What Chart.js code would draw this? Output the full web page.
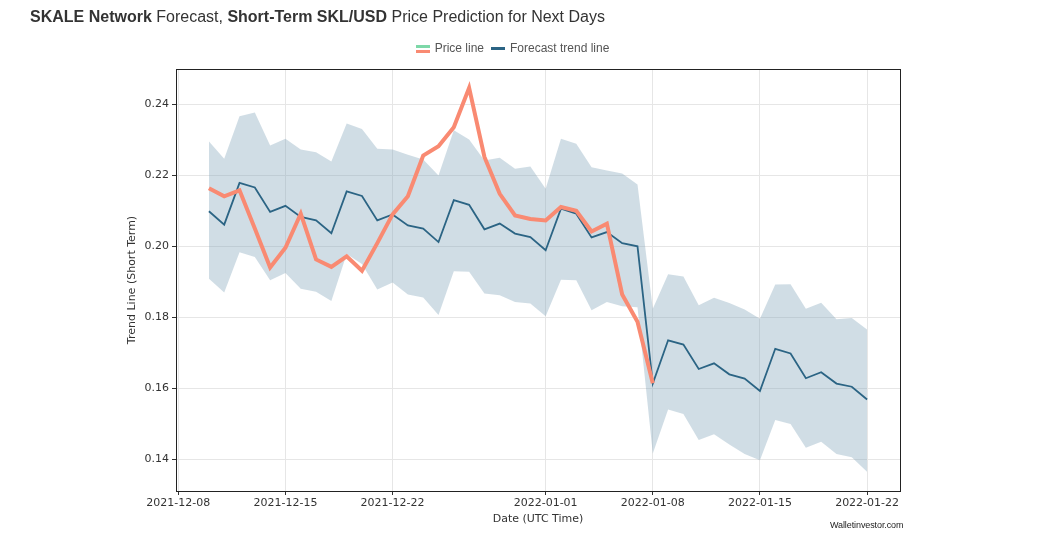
<!DOCTYPE html>
<html>
<head>
<meta charset="utf-8">
<script src="https://cdn.jsdelivr.net/npm/chart.js@4"></script>
<style>
  body { margin: 0; background: #fff; }
  #wrap { position: relative; width: 1048px; height: 542px; }
  #titulo { position: absolute; left: 30px; top: 8px; font: 16px "Liberation Sans", Arial, sans-serif; color: #333; white-space: nowrap; }
  #marca { position: absolute; left: 830px; top: 520px; font: 9px "Liberation Sans", Arial, sans-serif; color: #222; letter-spacing: -0.1px; }
  canvas { position: absolute; left: 0; top: 0; }
</style>
</head>
<body>
<div id="wrap">
  <canvas id="myChart" width="1048" height="542"></canvas>
  <div id="titulo"><b>SKALE Network</b> Forecast, <b>Short-Term SKL/USD</b> Price Prediction for Next Days</div>
  <div id="marca">Walletinvestor.com</div>
</div>
<script>
// Dados do grafico (um valor por dia, a partir de 2021-12-10)
const inicio = '2021-12-10';
const precos = [0.2164, 0.2141, 0.2158, 0.2050, 0.1940, 0.1996, 0.2092, 0.1963, 0.1942, 0.1972,
    0.1931, 0.2009, 0.2090, 0.2141, 0.2256, 0.2282, 0.2336, 0.2447, 0.2252, 0.2148,
    0.2087, 0.2077, 0.2073, 0.2111, 0.2100, 0.2042, 0.2064, 0.1864, 0.1787, 0.1614];
const tendencia = [0.2099, 0.2061, 0.2179, 0.2166, 0.2097, 0.2114, 0.2083, 0.2073, 0.2037, 0.2155,
    0.2142, 0.2073, 0.2090, 0.2059, 0.2050, 0.2012, 0.2130, 0.2117, 0.2048, 0.2064,
    0.2036, 0.2026, 0.1989, 0.2106, 0.2092, 0.2025, 0.2040, 0.2009, 0.2000, 0.1613,
    0.1735, 0.1723, 0.1654, 0.1670, 0.1639, 0.1627, 0.1592, 0.1711, 0.1698, 0.1628,
    0.1645, 0.1613, 0.1604, 0.1568];
const limiteSup = [0.2296, 0.2247, 0.2367, 0.2377, 0.2284, 0.2303, 0.2273, 0.2265, 0.2239, 0.2346,
    0.2331, 0.2275, 0.2273, 0.2258, 0.2245, 0.2200, 0.2327, 0.2301, 0.2242, 0.2250,
    0.2219, 0.2225, 0.2162, 0.2303, 0.2289, 0.2223, 0.2214, 0.2205, 0.2174, 0.1824,
    0.1921, 0.1915, 0.1834, 0.1855, 0.1840, 0.1822, 0.1796, 0.1892, 0.1893, 0.1824,
    0.1841, 0.1794, 0.1798, 0.1765];
const limiteInf = [0.1909, 0.1870, 0.1983, 0.1970, 0.1904, 0.1925, 0.1880, 0.1872, 0.1846, 0.1978,
    0.1950, 0.1878, 0.1898, 0.1864, 0.1856, 0.1806, 0.1930, 0.1928, 0.1867, 0.1862,
    0.1843, 0.1839, 0.1803, 0.1906, 0.1904, 0.1820, 0.1843, 0.1831, 0.1828, 0.1416,
    0.1540, 0.1527, 0.1454, 0.1470, 0.1441, 0.1414, 0.1397, 0.1510, 0.1499, 0.1432,
    0.1449, 0.1414, 0.1405, 0.1364];
const datasTicks = ['2021-12-08', '2021-12-15', '2021-12-22', '2022-01-01', '2022-01-08', '2022-01-15', '2022-01-22'];
const valoresY = [0.14, 0.16, 0.18, 0.20, 0.22, 0.24];

const DIA = 86400000;
function diaDe(txt) { return Date.parse(txt + 'T00:00:00Z') / DIA; }
function textoDia(d) { return new Date(Math.round(d) * DIA).toISOString().slice(0, 10); }

const dia0 = diaDe(inicio);
const pontos = arr => arr.map((v, i) => ({ x: dia0 + i, y: v }));
const ultimo = dia0 + tendencia.length - 1;
const margem = (ultimo - dia0) * 0.05;

// icone da legenda do preco (verde em cima, laranja em baixo)
const iconePreco = document.createElement('canvas');
iconePreco.width = 14; iconePreco.height = 10;
let c = iconePreco.getContext('2d');
c.fillStyle = '#7dd8a8'; c.fillRect(0, 1, 14, 3);
c.fillStyle = '#f98a72'; c.fillRect(0, 6, 14, 3);
const iconeTend = document.createElement('canvas');
iconeTend.width = 14; iconeTend.height = 10;
c = iconeTend.getContext('2d');
c.fillStyle = '#2b6484'; c.fillRect(0, 3, 14, 3);

// moldura completa como no matplotlib
const moldura = {
    id: 'moldura',
    afterDatasetsDraw(chart) {
        const a = chart.chartArea, ctx = chart.ctx;
        ctx.save();
        ctx.strokeStyle = '#222';
        ctx.lineWidth = 1;
        ctx.strokeRect(Math.round(a.left) + 0.5, Math.round(a.top) + 0.5, Math.round(a.right - a.left), Math.round(a.bottom - a.top));
        ctx.restore();
    }
};

// espaco extra abaixo da legenda
const espacoLegenda = {
    id: 'espacoLegenda',
    beforeInit(chart) {
        const fitOriginal = chart.legend.fit;
        chart.legend.fit = function () {
            fitOriginal.bind(chart.legend)();
            this.height += 4;
        };
    }
};

const fonteEixo = { family: '"DejaVu Sans", sans-serif', size: 11 };

new Chart(document.getElementById('myChart'), {
    type: 'line',
    data: {
        datasets: [
            { label: 'Price line', data: pontos(precos), borderColor: '#f98a72', borderWidth: 4, pointRadius: 0, fill: false, tension: 0, order: 0 },
            { label: 'Forecast trend line', data: pontos(tendencia), borderColor: '#2b6484', borderWidth: 1.8, pointRadius: 0, fill: false, tension: 0, order: 1 },
            { label: 'sup', data: pontos(limiteSup), borderWidth: 0, borderColor: 'rgba(0,0,0,0)', pointRadius: 0, fill: '+1', backgroundColor: 'rgba(119,157,180,0.35)', order: 2 },
            { label: 'inf', data: pontos(limiteInf), borderWidth: 0, borderColor: 'rgba(0,0,0,0)', pointRadius: 0, fill: false, order: 3 }
        ]
    },
    options: {
        responsive: false,
        animation: false,
        layout: { padding: { top: 35, right: 148, left: 126, bottom: 16 } },
        plugins: {
            legend: {
                position: 'top',
                labels: {
                    usePointStyle: true,
                    generateLabels: chart => [
                        { text: 'Price line', pointStyle: iconePreco, datasetIndex: 0, fontColor: '#555', strokeStyle: 'transparent', lineWidth: 0 },
                        { text: 'Forecast trend line', pointStyle: iconeTend, datasetIndex: 1, fontColor: '#555', strokeStyle: 'transparent', lineWidth: 0 }
                    ],
                    font: { family: '"Liberation Sans", Arial, sans-serif', size: 12 },
                    color: '#555',
                    padding: 8,
                    boxWidth: 14
                }
            },
            tooltip: { enabled: false }
        },
        scales: {
            x: {
                type: 'linear',
                min: dia0 - margem,
                max: ultimo + margem,
                afterFit: s => { s.height = 35; },
                afterBuildTicks: s => { s.ticks = datasTicks.map(t => ({ value: diaDe(t) })); },
                ticks: { callback: v => textoDia(v), font: fonteEixo, color: '#333', maxRotation: 0, padding: 2 },
                grid: { color: '#e6e6e6', tickColor: '#333', tickLength: 4 },
                border: { display: false },
                title: { display: true, text: 'Date (UTC Time)', font: fonteEixo, color: '#333', padding: { top: 1, bottom: 0 } }
            },
            y: {
                min: 0.1310,
                max: 0.2500,
                afterFit: s => { s.width = 50; },
                afterBuildTicks: s => { s.ticks = valoresY.map(v => ({ value: v })); },
                ticks: { callback: v => v.toFixed(2), font: fonteEixo, color: '#333', padding: 3 },
                grid: { color: '#e6e6e6', tickColor: '#333', tickLength: 4 },
                border: { display: false },
                title: { display: true, text: 'Trend Line (Short Term)', font: fonteEixo, color: '#333', padding: { top: 0, bottom: 4 } }
            }
        }
    },
    plugins: [moldura, espacoLegenda]
});
</script>
</body>
</html>
